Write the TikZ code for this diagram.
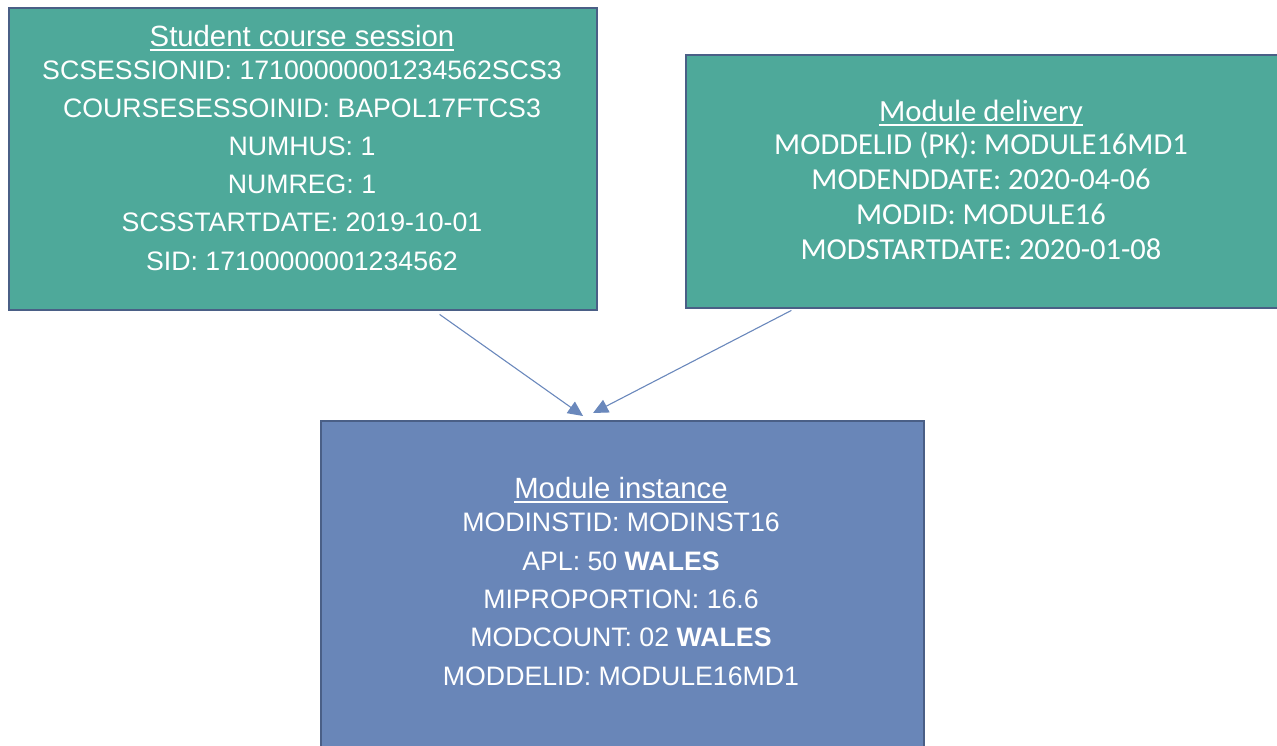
\documentclass[tikz,border=0pt]{standalone}
\usepackage{fontspec}
\setmainfont{Liberation Sans}
\newfontfamily\calibrifont{Carlito}
\usetikzlibrary{calc,arrows.meta}
\definecolor{boxteal}{HTML}{4EA99A}
\definecolor{boxblue}{HTML}{6986B8}
\definecolor{edgeblue}{HTML}{4A5F86}
\definecolor{arrowblue}{HTML}{6A88BC}
\begin{document}
\begin{tikzpicture}[x=1pt,y=-1pt,
  entity/.style={draw=edgeblue, line width=2.4pt, anchor=north west, inner sep=0pt},
  ttl/.style={text=white, anchor=base, inner sep=0pt, font=\fontsize{29.3}{34}\selectfont},
  body/.style={text=white, anchor=base, inner sep=0pt, font=\fontsize{26.7}{32}\selectfont},
  cttl/.style={text=white, anchor=base, inner sep=0pt, font=\calibrifont\fontsize{30.8}{35}\selectfont},
  cbody/.style={text=white, anchor=base, inner sep=0pt, font=\calibrifont\fontsize{30.5}{35}\selectfont},
  uline/.style={draw=white, line width=1.5pt},
  conn/.style={draw=arrowblue, line width=1.1pt, -{Triangle[length=15pt,width=14pt]}}]
\useasboundingbox (0,0) rectangle (1277,745);
\clip (0,0) rectangle (1277,745);
% boxes
\node[entity, fill=boxteal, minimum width=588pt, minimum height=302pt] (scs) at (8,7) {};
\node[entity, fill=boxteal, minimum width=592pt, minimum height=253pt] (md) at (685,54) {};
\node[entity, fill=boxblue, minimum width=603pt, minimum height=345pt] (mi) at (320,420) {};
% Student course session
\node[ttl] (scs0) at (302,46) {Student course session};
\draw[uline] ($(scs0.base west)+(0,4)$) -- ($(scs0.base east)+(0,4)$);
\node[body] (scs1) at (302,79) {SCSESSIONID: 17100000001234562SCS3};
\node[body] (scs2) at (302,117) {COURSESESSOINID: BAPOL17FTCS3};
\node[body] (scs3) at (302,155) {NUMHUS: 1};
\node[body] (scs4) at (302,193) {NUMREG: 1};
\node[body] (scs5) at (302,231) {SCSSTARTDATE: 2019-10-01};
\node[body] (scs6) at (302,270) {SID: 17100000001234562};
% Module delivery
\node[cttl] (md0) at (981,121) {Module delivery};
\draw[uline] ($(md0.base west)+(0,4)$) -- ($(md0.base east)+(0,4)$);
\node[cbody] (md1) at (981,154) {MODDELID (PK): MODULE16MD1};
\node[cbody] (md2) at (981,189) {MODENDDATE: 2020-04-06};
\node[cbody] (md3) at (981,224) {MODID: MODULE16};
\node[cbody] (md4) at (981,259) {MODSTARTDATE: 2020-01-08};
% Module instance
\node[ttl] (mi0) at (621,498) {Module instance};
\draw[uline] ($(mi0.base west)+(0,4)$) -- ($(mi0.base east)+(0,4)$);
\node[body] (mi1) at (621,531) {MODINSTID: MODINST16};
\node[body] (mi2) at (621,570) {APL: 50 \textbf{WALES}};
\node[body] (mi3) at (621,608) {MIPROPORTION: 16.6};
\node[body] (mi4) at (621,646) {MODCOUNT: 02 \textbf{WALES}};
\node[body] (mi5) at (621,685) {MODDELID: MODULE16MD1};
% connectors
\draw[conn] ($(scs.south west)!0.731!(scs.south east)+(0,3)$) -- ($(mi.north west)!0.4345!(mi.north east)+(0,-4)$);
\draw[conn] ($(md.south west)!0.179!(md.south east)+(0,1)$) -- ($(mi.north west)!0.451!(mi.north east)+(0,-7)$);
\end{tikzpicture}
\end{document}
